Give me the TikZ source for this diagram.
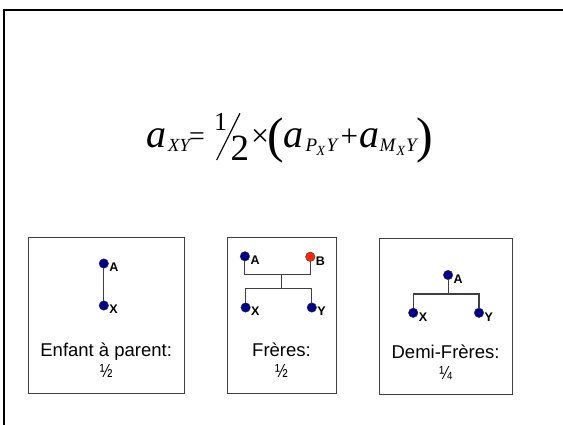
\documentclass[tikz,border=0pt]{standalone}
\usepackage{fontspec}
\setmainfont{Liberation Serif}
\newfontfamily\arial{Liberation Sans}
\usetikzlibrary{calc}
\definecolor{dotblue}{RGB}{0,0,140}
\definecolor{dotred}{RGB}{255,40,0}
\definecolor{linegray}{RGB}{64,64,64}
\tikzset{
  frame/.style={draw=black,line width=2pt},
  panel/.style={draw=linegray,line width=1.1pt},
  tree/.style={draw=linegray,line width=1.1pt},
  dot/.style={circle,inner sep=0pt,minimum size=9.5pt,fill=dotblue,draw=black!80,line width=0.4pt},
  reddot/.style={dot,fill=dotred},
  lab/.style={inner sep=0pt,anchor=west,font=\arial\bfseries\fontsize{12.5}{12.5}\selectfont},
  captext/.style={inner sep=0pt,anchor=base,font=\arial\fontsize{18.5}{18.5}\selectfont},
  fractext/.style={inner sep=0pt,anchor=base,font=\arial\fontsize{19}{19}\selectfont},
  fm/.style={inner sep=0pt,anchor=base west},
}
\newcommand{\fs}[1]{\fontsize{#1}{#1}\selectfont}
\newcommand{\narrowfrac}[1]{\scalebox{0.8}[1]{#1}}
\begin{document}
\begin{tikzpicture}[x=1pt,y=-1pt]
\useasboundingbox (0,0) rectangle (563,424);
\begin{scope}
\clip (0,0) rectangle (563,424);
\draw[frame] (4.3,440) -- (4.3,10) -- (580,10);
\end{scope}

% formula
\node[fm] (fa1) at (146.5,147) {\fs{40}\itshape a};
\node[fm] (fs1) at (168,151.7) {\fs{18.5}\itshape XY};
\node[fm] (feq) at (189,145.5) {\fs{28}=};
\node[fm] (fone) at (214,130) {\fs{26}1};
\coordinate (sl1) at (216.7,160);
\coordinate (sl2) at (240,113.3);
\draw[line width=1.2pt] (sl1) -- (sl2);
\node[fm] (ftwo) at (230.5,160) {\fs{37}2};
\node[fm] (ftimes) at (251,146) {\fs{32}×};
\node[fm] (flp) at (267.5,152.8) {\fs{50}(};
\node[fm] (fa2) at (283.2,147) {\fs{40}\itshape a};
\node[fm] (fP) at (305.5,151.7) {\fs{19}\itshape P};
\node[fm] (fX1) at (316.5,155.5) {\fs{14}\itshape X};
\node[fm] (fY1) at (326.5,151.7) {\fs{19}\itshape Y};
\node[fm] (fplus) at (340.5,146.5) {\fs{31}+};
\node[fm] (fa3) at (359.2,147) {\fs{40}\itshape a};
\node[fm] (fM) at (379.5,151.7) {\fs{19}\itshape M};
\node[fm] (fX2) at (396.5,155.5) {\fs{14}\itshape X};
\node[fm] (fY2) at (406,151.7) {\fs{19}\itshape Y};
\node[fm] (frp) at (416,152.8) {\fs{50})};

% panels
\node[panel,minimum width=156pt,minimum height=156pt,anchor=north west,inner sep=0pt] (p1) at (28.3,237.3) {};
\node[panel,minimum width=108.4pt,minimum height=156pt,anchor=north west,inner sep=0pt] (p2) at (227.3,237.3) {};
\node[panel,minimum width=133.3pt,minimum height=156pt,anchor=north west,inner sep=0pt] (p3) at (379,237.8) {};

% panel 1
\node[dot] (A1) at (103.8,263.5) {};
\node[dot] (X1) at (103.8,305.5) {};
\draw[tree] (A1) -- (X1);
\node[lab] (lA1) at ($(A1)+(5.4,4)$) {A};
\node[lab] (lX1) at ($(X1)+(5.4,4)$) {X};
\node[captext] (c1) at (106.2,356) {Enfant à parent:};
\node[fractext] (h1) at (106.2,377) {\narrowfrac{½}};

% panel 2
\node[dot] (A2) at (244.9,256.3) {};
\node[reddot] (B2) at (310.3,256.8) {};
\node[dot] (X2) at (245.6,307.5) {};
\node[dot] (Y2) at (311.8,307.5) {};
\coordinate (m2) at (281.2,274.6);
\coordinate (n2) at (281.2,288.7);
\draw[tree] (A2) |- (m2) -| (B2);
\draw[tree] (m2) -- (n2);
\draw[tree] (X2) |- (n2) -| (Y2);
\node[lab] (lA2) at ($(A2)+(5.4,4)$) {A};
\node[lab] (lB2) at ($(B2)+(5.4,4)$) {B};
\node[lab] (lX2) at ($(X2)+(5.4,4)$) {X};
\node[lab] (lY2) at ($(Y2)+(5.4,4)$) {Y};
\node[captext] (c2) at (281.5,356) {Frères:};
\node[fractext] (h2) at (281.5,377) {\narrowfrac{½}};

% panel 3
\node[dot] (A3) at (448.1,275) {};
\node[dot] (X3) at (413.2,312.8) {};
\node[dot] (Y3) at (479,312.8) {};
\coordinate (n3) at (448.1,294);
\draw[tree] (A3) -- (n3);
\draw[tree] (X3) |- (n3) -| (Y3);
\node[lab] (lA3) at ($(A3)+(5.4,4)$) {A};
\node[lab] (lX3) at ($(X3)+(5.4,4)$) {X};
\node[lab] (lY3) at ($(Y3)+(5.4,4)$) {Y};
\node[captext] (c3) at (445.6,358.5) {Demi-Frères:};
\node[fractext] (h3) at (445.6,379.5) {\narrowfrac{¼}};
\end{tikzpicture}
\end{document}
